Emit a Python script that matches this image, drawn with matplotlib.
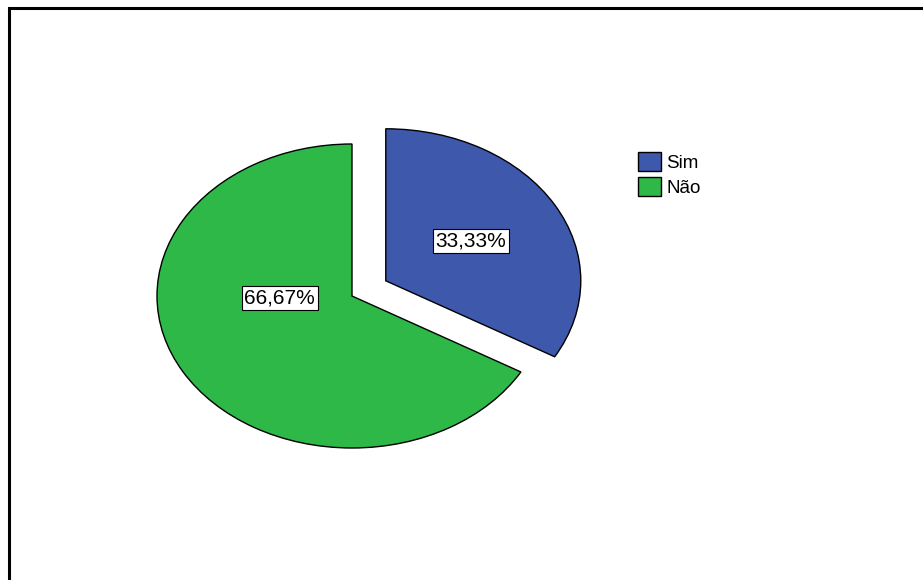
import matplotlib
matplotlib.use('agg')
import matplotlib.pyplot as plt
from matplotlib.patches import Rectangle

plt.rcParams.update({
    "font.family": ["Liberation Sans", "DejaVu Sans"],
    "font.size": 13})

categories = ["Sim", "Não"]
shares = [33.33, 66.67]
colors = ["#3E58AC", "#2EB848"]
explode = [0.2, 0.0]

W, H = 923, 580
fig = plt.figure(figsize=(W / 100, H / 100), dpi=100)
ax = fig.add_axes([0, 0, 1, 1])

wedges, texts, autotexts = ax.pie(
    shares, colors=colors, explode=explode, startangle=90, counterclock=False,
    autopct=lambda p: f"{p:.2f}%".replace(".", ","),
    wedgeprops=dict(edgecolor="black", linewidth=1.0))

# ellipse: 1 unit = 195 px across, 152 px vertically, centre at (352, 296)
rx, ry = 195.0, 152.0
cx, cy = 352.0, H - 296.0
ax.set_aspect("auto")
ax.set_xlim(-cx / rx, (W - cx) / rx)
ax.set_ylim(-cy / ry, (H - cy) / ry)
ax.axis("off")

# percentage labels in white boxes
label_pos = [(0.61, 0.36), (-0.37, -0.013)]
for t, pos in zip(autotexts, label_pos):
    t.set_position(pos)
    t.set_fontsize(15)
    t.set_ha("center")
    t.set_va("center")
    t.set_bbox(dict(boxstyle="square,pad=0.12", facecolor="white",
                    edgecolor="black", linewidth=0.8))

leg = fig.legend(wedges, categories, loc="upper left",
                 bbox_to_anchor=(638 / W, 1 - 152 / H), frameon=False,
                 borderpad=0, borderaxespad=0, handlelength=1.2,
                 handleheight=1.2, handletextpad=0.3, labelspacing=0.25,
                 fontsize=13.5)

# outer frame (right and bottom run off the canvas)
fig.patches.append(Rectangle((9 / W, -0.05), 1.0, 1 - 7.5 / H + 0.05,
                             transform=fig.transFigure, fill=False,
                             edgecolor="black", linewidth=2.2))

fig.savefig("out.png", dpi=100)
